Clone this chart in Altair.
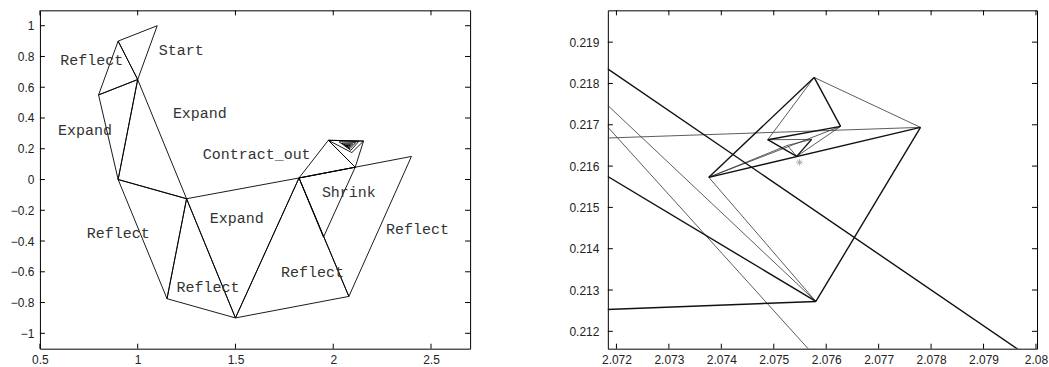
import altair as alt
import pandas as pd

# ---------------- Left panel: simplex iterations ----------------
triangles = [
    [(0.9, 0.9), (1.1, 1.0), (1.0, 0.65)],
    [(0.9, 0.9), (1.0, 0.65), (0.8, 0.55)],
    [(0.8, 0.55), (1.0, 0.65), (0.9, 0.0)],
    [(1.0, 0.65), (0.9, 0.0), (1.25, -0.125)],
    [(0.9, 0.0), (1.25, -0.125), (1.15, -0.775)],
    [(1.25, -0.125), (1.15, -0.775), (1.5, -0.9)],
    [(1.25, -0.125), (1.5, -0.9), (1.825, 0.01)],
    [(1.5, -0.9), (1.825, 0.01), (2.08, -0.76)],
    [(1.825, 0.01), (2.08, -0.76), (2.4, 0.15)],
    [(1.825, 0.01), (1.95, -0.375), (2.1125, 0.08)],
    [(1.825, 0.01), (2.1125, 0.08), (1.975, 0.255)],
    [(1.975, 0.255), (2.1125, 0.08), (2.155, 0.25)],
    [(1.975, 0.255), (2.155, 0.25), (2.095, 0.175)],
    [(2.03, 0.245), (2.13, 0.247), (2.09, 0.19)],
    [(2.045, 0.236), (2.115, 0.24), (2.085, 0.2)],
    [(2.055, 0.23), (2.1, 0.232), (2.08, 0.205)],
    [(2.063, 0.224), (2.09, 0.226), (2.078, 0.21)],
    [(2.068, 0.221), (2.085, 0.222), (2.077, 0.212)],
]

label_text = ["Start", "Reflect", "Expand", "Expand", "Contract_out", "Reflect",
              "Expand", "Reflect", "Reflect", "Shrink", "Reflect"]
label_x = [1.108, 0.604, 0.593, 1.180, 1.333, 0.740, 1.369, 1.199, 1.733, 1.942, 2.270]
label_y = [0.845, 0.774, 0.324, 0.432, 0.164, -0.346, -0.249, -0.700, -0.599, -0.080, -0.324]

left_xticks = [0.5, 1, 1.5, 2, 2.5]
left_yticks = [-1, -0.8, -0.6, -0.4, -0.2, 0, 0.2, 0.4, 0.6, 0.8, 1]

# ---------------- Right panel: zoom near the minimum ----------------
V = {
    "A": (2.07577, 0.218146), "B": (2.077798, 0.216937), "C": (2.073762, 0.215728),
    "D": (2.075803, 0.212723), "E": (2.076274, 0.21696), "F": (2.074885, 0.216638),
    "G": (2.075722, 0.216646), "H": (2.075437, 0.216234), "I": (2.07526, 0.2165),
    "P": (2.060, 0.22862), "Q": (2.090, 0.20259), "R": (2.065, 0.22564),
    "S1": (2.065, 0.22654), "S2": (2.080, 0.20548), "U": (2.062, 0.22325),
    "W5": (2.060, 0.21617), "W6": (2.060, 0.21195),
}
edges_bold = [("C", "A"), ("C", "B"), ("B", "D"), ("A", "E"), ("F", "E"), ("F", "H"),
              ("G", "H"), ("P", "Q"), ("U", "D"), ("W6", "D")]
edges_light = [("A", "B"), ("C", "D"), ("C", "E"), ("A", "F"), ("F", "G"), ("E", "H"),
               ("I", "G"), ("I", "H"), ("C", "I"), ("R", "D"), ("S1", "S2"), ("W5", "B")]
best_x = [2.07549]
best_y = [0.216091]

right_xticks = [2.072, 2.073, 2.074, 2.075, 2.076, 2.077, 2.078, 2.079, 2.080]
right_yticks = [0.212, 0.213, 0.214, 0.215, 0.216, 0.217, 0.218, 0.219]

# ---------------- build tables ----------------
rows = []
for t, tri in enumerate(triangles):
    for k, (x, y) in enumerate(tri + [tri[0]]):
        rows.append({"tri": t, "k": k, "x": x, "y": y})
tri_df = pd.DataFrame(rows)


def edge_df(edges):
    r = []
    for i, (a, b) in enumerate(edges):
        for k, n in enumerate((a, b)):
            r.append({"tri": i, "k": k, "x": V[n][0], "y": V[n][1]})
    return pd.DataFrame(r)


bold_df = edge_df(edges_bold)
light_df = edge_df(edges_light)
lab_df = pd.DataFrame({"t": label_text, "x": label_x, "y": label_y})
best_df = pd.DataFrame({"x": best_x, "y": best_y})

LW, RW, H = 431, 430, 339
TICK = 5

LABEL_FONT = "Liberation Sans"
LFS = 12


def x_axis(ticks):
    return alt.Axis(values=ticks, title=None, grid=False, ticks=False, domain=False,
                    labelFont=LABEL_FONT, labelFontSize=LFS, labelColor="#222",
                    labelPadding=6, format="~g", labelFlush=False)


def y_axis(ticks, pad, ext):
    return alt.Axis(values=ticks, title=None, grid=False, ticks=False, domain=False,
                    labelFont=LABEL_FONT, labelFontSize=LFS, labelColor="#222",
                    labelPadding=pad, format="~g", minExtent=ext, maxExtent=ext)


def tick_layers(xs, ys, sx, sy, ax, ay, w):
    xdf = pd.DataFrame({"x": xs})
    ydf = pd.DataFrame({"y": ys})
    X = alt.X("x:Q", scale=sx, axis=ax)
    Y = alt.Y("y:Q", scale=sy, axis=ay)
    b = alt.Chart(xdf).mark_rule(color="#000", strokeWidth=1).encode(
        x=X, y=alt.value(H), y2=alt.value(H - TICK))
    t = alt.Chart(xdf).mark_rule(color="#000", strokeWidth=1).encode(
        x=X, y=alt.value(0), y2=alt.value(TICK))
    l = alt.Chart(ydf).mark_rule(color="#000", strokeWidth=1).encode(
        y=Y, x=alt.value(0), x2=alt.value(TICK))
    r = alt.Chart(ydf).mark_rule(color="#000", strokeWidth=1).encode(
        y=Y, x=alt.value(w), x2=alt.value(w - TICK))
    return [b, t, l, r]


# left
sxL = alt.Scale(domain=[0.5, 2.7], nice=False, zero=False)
syL = alt.Scale(domain=[-1.1, 1.1], nice=False, zero=False)
axL, ayL = x_axis(left_xticks), y_axis(left_yticks, 6, 39)
XL = alt.X("x:Q", scale=sxL, axis=axL)
YL = alt.Y("y:Q", scale=syL, axis=ayL)

left_lines = alt.Chart(tri_df).mark_line(color="#000", strokeWidth=0.9, clip=True).encode(
    x=XL, y=YL, detail="tri:N", order="k:O")
left_labels = alt.Chart(lab_df).mark_text(
    align="left", baseline="middle", font="Liberation Mono", fontSize=15, color="#333"
).encode(x=XL, y=YL, text="t:N")

left = alt.layer(left_lines, left_labels,
                 *tick_layers(left_xticks, left_yticks, sxL, syL, axL, ayL, LW)
                 ).properties(width=LW, height=H)

# right
sxR = alt.Scale(domain=[2.071836, 2.08002], nice=False, zero=False)
syR = alt.Scale(domain=[0.21158, 0.21977], nice=False, zero=False)
axR, ayR = x_axis(right_xticks), y_axis(right_yticks, 9, 40)
XR = alt.X("x:Q", scale=sxR, axis=axR)
YR = alt.Y("y:Q", scale=syR, axis=ayR)

r_bold = alt.Chart(bold_df).mark_line(color="#111", strokeWidth=1.4, clip=True).encode(
    x=XR, y=YR, detail="tri:N", order="k:O")
r_light = alt.Chart(light_df).mark_line(color="#333", strokeWidth=0.8, clip=True).encode(
    x=XR, y=YR, detail="tri:N", order="k:O")
star_path = "M-1,0L1,0M0,-1L0,1M-0.7,-0.7L0.7,0.7M-0.7,0.7L0.7,-0.7"
r_best = alt.Chart(best_df).mark_point(shape=star_path, size=40, color="#888",
                                       strokeWidth=1, filled=False).encode(x=XR, y=YR)

right = alt.layer(r_light, r_bold, r_best,
                  *tick_layers(right_xticks, right_yticks, sxR, syR, axR, ayR, RW)
                  ).properties(width=RW, height=H)

chart = alt.hconcat(left, right, spacing=96).properties(
    padding={"left": 0, "top": 9, "right": 0, "bottom": 0},
    background="white",
).configure_view(stroke="#000", strokeWidth=1)

chart.save("out.html", embed_options={"renderer": "svg", "actions": False})
